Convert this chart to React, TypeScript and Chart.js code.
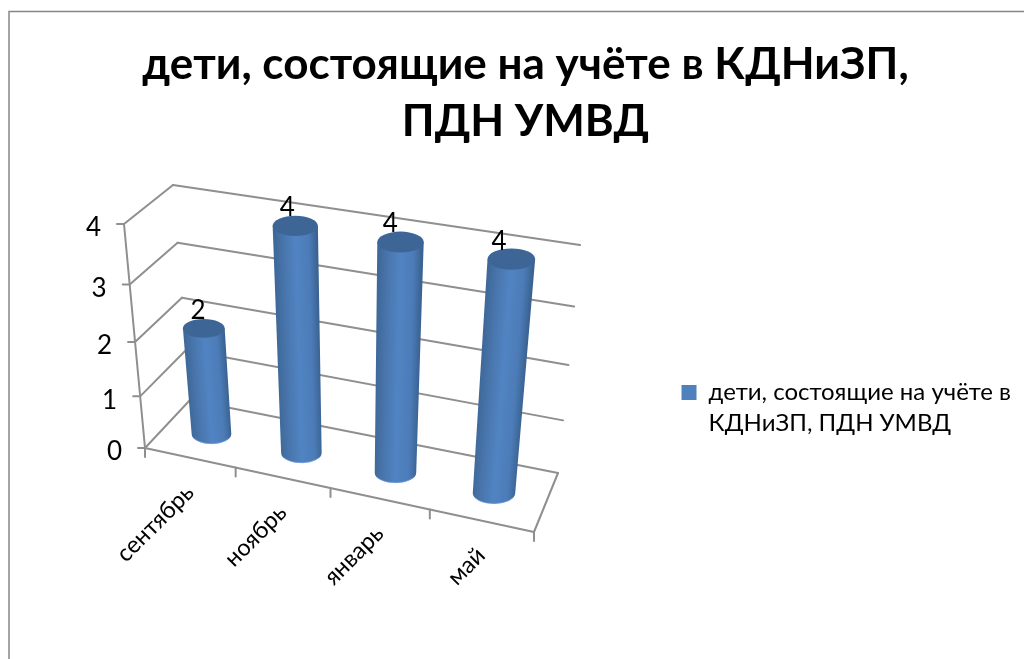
import React, { useEffect, useRef } from "react";
import { Chart, registerables } from "chart.js";

Chart.register(...registerables);

const categories = ["сентябрь", "ноябрь", "январь", "май"];
const seriesName = "дети, состоящие на учёте в КДНиЗП, ПДН УМВД";
const values = [2, 4, 4, 4];
const titleLines = ["дети, состоящие на учёте в КДНиЗП,", "ПДН УМВД"];
const legendLines = ["дети, состоящие на учёте в", "КДНиЗП, ПДН УМВД"];

const FONT = "Lato, 'Open Sans', 'Noto Sans', sans-serif";
const GRID = "#8f8f8f";

type P = [number, number];

// Perspective planes (bottom-left, bottom-right, top-right, top-left)
const FRONT: P[] = [[145, 448], [534, 532], [559, 294], [124, 224]];
const MIDDLE: P[] = [[168, 425], [545, 504], [569, 268], [147, 203]];
const BACK: P[] = [[190, 400], [558, 473], [580, 245], [173, 185]];

function homography(q: P[]) {
  const [[x0, y0], [x1, y1], [x2, y2], [x3, y3]] = q;
  const dx1 = x1 - x2, dx2 = x3 - x2, sx = x0 - x1 + x2 - x3;
  const dy1 = y1 - y2, dy2 = y3 - y2, sy = y0 - y1 + y2 - y3;
  const den = dx1 * dy2 - dx2 * dy1;
  const g = (sx * dy2 - dx2 * sy) / den;
  const h = (dx1 * sy - sx * dy1) / den;
  const a = x1 - x0 + g * x1, b = x3 - x0 + h * x3;
  const d = y1 - y0 + g * y1, e = y3 - y0 + h * y3;
  return (u: number, v: number): P => {
    const w = g * u + h * v + 1;
    return [(a * u + b * v + x0) / w, (d * u + e * v + y0) / w];
  };
}

const front = homography(FRONT);
const middle = homography(MIDDLE);
const back = homography(BACK);

function line(ctx: CanvasRenderingContext2D, a: P, b: P) {
  ctx.beginPath();
  ctx.moveTo(a[0], a[1]);
  ctx.lineTo(b[0], b[1]);
  ctx.stroke();
}

const threeD = {
  id: "threeD",
  beforeDraw(chart: any) {
    const ctx = chart.ctx as CanvasRenderingContext2D;
    ctx.save();
    ctx.strokeStyle = "#868686";
    ctx.lineWidth = 1.5;
    ctx.beginPath();
    ctx.moveTo(9, 700);
    ctx.lineTo(9, 11.5);
    ctx.lineTo(1100, 11.5);
    ctx.stroke();
    ctx.restore();
  },
  beforeDatasetsDraw(chart: any) {
    const ctx = chart.ctx as CanvasRenderingContext2D;
    const { chartArea: area } = chart;
    const xs = chart.scales.x, ys = chart.scales.y;
    const toU = (px: number) => (px - area.left) / (area.right - area.left);
    const toV = (py: number) => (area.bottom - py) / (area.bottom - area.top);
    ctx.save();
    ctx.strokeStyle = GRID;
    ctx.lineWidth = 2;
    ctx.lineCap = "round";
    ctx.lineJoin = "round";
    // value axis, gridlines over side and back walls
    line(ctx, front(0, 0), front(0, 1));
    ctx.fillStyle = "#000";
    ctx.font = `26px ${FONT}`;
    ctx.textAlign = "right";
    ctx.textBaseline = "middle";
    ys.ticks.forEach((t: any) => {
      const v = toV(ys.getPixelForValue(t.value));
      const f = front(0, v);
      line(ctx, [f[0] - 7, f[1]], f);
      line(ctx, f, back(0, v));
      line(ctx, back(0, v), back(1, v));
      ctx.fillText(String(t.value), f[0] - 23, f[1] + 4);
    });
    // floor
    line(ctx, front(0, 0), front(1, 0));
    line(ctx, front(1, 0), back(1, 0));
    for (let k = 0; k <= categories.length; k++) {
      const u = toU(xs.getPixelForValue(k - 0.5));
      const p = front(u, 0);
      line(ctx, p, [p[0], p[1] + 9]);
    }
    // category labels
    ctx.font = `23.5px ${FONT}`;
    ctx.textAlign = "right";
    categories.forEach((c, i) => {
      const u = toU(xs.getPixelForValue(i));
      const p = front(u, 0);
      ctx.save();
      ctx.translate(p[0] + 0, p[1] + 31);
      ctx.rotate(-Math.PI / 4);
      ctx.fillText(c, 0, 0);
      ctx.restore();
    });
    ctx.restore();
  },
  beforeDatasetDraw(chart: any, args: any) {
    const ctx = chart.ctx as CanvasRenderingContext2D;
    const { chartArea: area } = chart;
    const toU = (px: number) => (px - area.left) / (area.right - area.left);
    const toV = (py: number) => (area.bottom - py) / (area.bottom - area.top);
    const bars = args.meta.data as any[];
    bars.forEach((bar: any, i: number) => {
      const vTop = toV(bar.y), vBase = toV(bar.base);
      const u = toU(bar.x);
      const du = (bar.width / 2) / (area.right - area.left);
      const tc = middle(u, vTop), bc = middle(u, vBase);
      // column radius: taken nearer the plane's middle, so the outer columns do not over-widen
      const uw = (u + 0.4) / 2;
      const rxT = (middle(uw + du, vTop)[0] - middle(uw - du, vTop)[0]) / 2;
      const rxB = (middle(uw + du, vBase)[0] - middle(uw - du, vBase)[0]) / 2;
      const ryT = rxT * 0.45, ryB = rxB * 0.5;
      // body
      ctx.save();
      ctx.beginPath();
      ctx.moveTo(tc[0] - rxT, tc[1]);
      ctx.lineTo(bc[0] - rxB, bc[1]);
      ctx.ellipse(bc[0], bc[1], rxB, ryB, 0, Math.PI, 0, true);
      ctx.lineTo(tc[0] + rxT, tc[1]);
      ctx.closePath();
      const mx = (tc[0] + bc[0]) / 2, my = (tc[1] + bc[1]) / 2;
      const ax = tc[0] - bc[0], ay = tc[1] - bc[1];
      const len = Math.hypot(ax, ay);
      const nx = -ay / len, ny = ax / len; // perpendicular to the column axis
      const r = (rxT + rxB) / 2;
      const sgn = nx < 0 ? -1 : 1;
      const g = ctx.createLinearGradient(
        mx - sgn * nx * r, my - sgn * ny * r,
        mx + sgn * nx * r, my + sgn * ny * r,
      );
      g.addColorStop(0, "#3e6898");
      g.addColorStop(0.2, "#4874ab");
      g.addColorStop(0.5, "#5184c3");
      g.addColorStop(0.8, "#4c7cb8");
      g.addColorStop(1, "#3a6291");
      ctx.fillStyle = g;
      ctx.fill();
      // light rim at the base
      ctx.beginPath();
      ctx.ellipse(bc[0], bc[1], rxB - 0.5, ryB - 0.3, 0, Math.PI * 0.85, Math.PI * 0.15, true);
      ctx.strokeStyle = "rgba(130,175,235,0.55)";
      ctx.lineWidth = 1;
      ctx.stroke();
      // top cap
      ctx.beginPath();
      ctx.ellipse(tc[0], tc[1], rxT, ryT, 0, 0, Math.PI * 2);
      ctx.fillStyle = "#3d6696";
      ctx.fill();
      ctx.restore();
      // value label
      ctx.save();
      ctx.fillStyle = "#000";
      ctx.font = `26px ${FONT}`;
      ctx.textAlign = "center";
      ctx.textBaseline = "middle";
      ctx.fillText(String(values[i]), tc[0] - 4.5 - 9 * u, tc[1] - 18);
      ctx.restore();
    });
    return false;
  },
};

export default function App() {
  const ref = useRef<HTMLCanvasElement | null>(null);
  useEffect(() => {
    const chart = new Chart(ref.current as HTMLCanvasElement, {
      type: "bar",
      data: {
        labels: categories,
        datasets: [
          {
            label: seriesName,
            data: values,
            backgroundColor: "#4f81bd",
            barPercentage: 1,
            categoryPercentage: 0.44,
          },
        ],
      },
      options: {
        responsive: false,
        animation: false,
        layout: { padding: { left: 30, top: 36, right: 3, bottom: 0 } },
        scales: {
          x: { display: false },
          y: { display: false, min: 0, max: 4, ticks: { stepSize: 1 } },
        },
        plugins: {
          tooltip: { enabled: false },
          title: {
            display: true,
            text: titleLines,
            color: "#000",
            font: { family: FONT, size: 44, weight: "bold", lineHeight: 1.3 },
            padding: { top: 0, bottom: 14 },
          },
          legend: {
            display: true,
            position: "right",
            fullSize: false,
            labels: {
              boxWidth: 15,
              boxHeight: 15,
              color: "#000",
              font: { family: FONT, size: 24, lineHeight: 1.3 },
              generateLabels: () => [
                { text: legendLines, fillStyle: "#4f81bd", strokeStyle: "#4f81bd", lineWidth: 0, datasetIndex: 0 },
              ],
            },
          },
        },
      },
      plugins: [threeD],
    } as any);
    return () => chart.destroy();
  }, []);
  return (
    <div style={{ position: "absolute", left: 0, top: 0, width: 1024, height: 659, overflow: "hidden" }}>
      <canvas ref={ref} width={1024} height={659} style={{ display: "block" }} />
    </div>
  );
}
